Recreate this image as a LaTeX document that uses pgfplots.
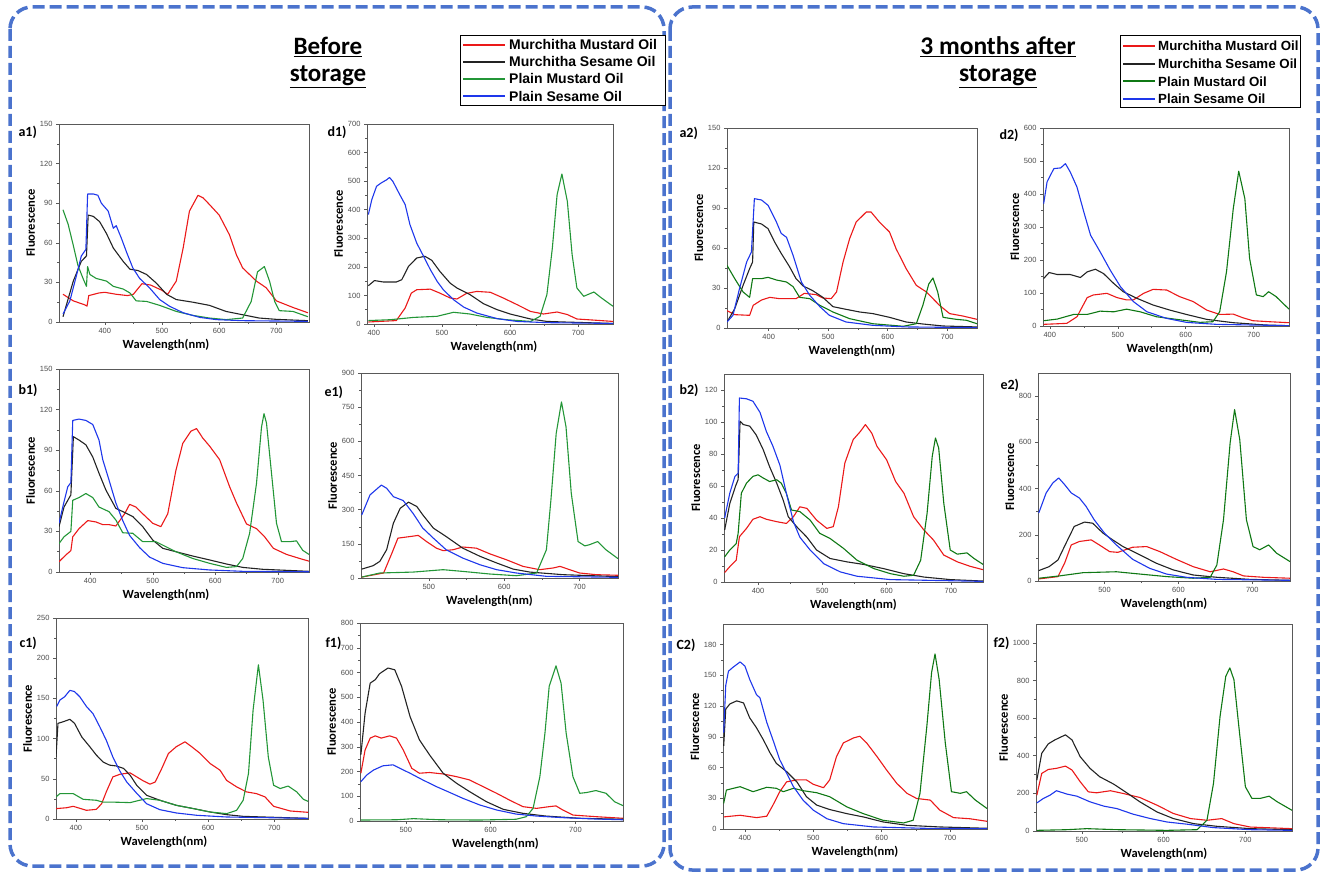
\documentclass[border=0pt]{standalone}
\usepackage{pgfplots}
\pgfplotsset{compat=1.18}
\usepackage{fontspec}
\setmainfont{Liberation Sans}
\newfontfamily\calb{Carlito}

\definecolor{cred}{RGB}{235,25,25}
\definecolor{cblack}{RGB}{35,35,35}
\definecolor{cgreen}{RGB}{35,150,55}
\definecolor{cgreenB}{RGB}{15,120,20}
\definecolor{cblue}{RGB}{30,55,235}
\definecolor{boxblue}{RGB}{75,115,205}

\pgfplotsset{
  sub/.style={
    scale only axis, ymin=0, tick pos=left, tick align=outside, minor tick num=1,
    axis line style={black!65, line width=0.6pt},
    major tick length=3pt, minor tick length=1.6pt,
    every tick/.style={black!65, line width=0.5pt},
    ticklabel style={font=\fontsize{7.5}{8}\selectfont, text=black!70},
    /pgf/number format/assume math mode=true,
    /pgf/number format/1000 sep={},
    xlabel={Wavelength(nm)}, ylabel={Fluorescence},
    label style={font=\calb\bfseries\fontsize{12.5}{13}\selectfont},
    xlabel style={yshift=1pt}, ylabel style={yshift=-2pt},
    every axis plot/.append style={line width=1.1pt, line join=round},
  },
  leftcol/.style={xlabel style={xshift=-18pt}},
  midcol/.style={xlabel style={xshift=4pt}},
}
\newcommand{\plab}[3]{\node[anchor=west, font=\calb\bfseries\fontsize{14}{14}\selectfont] at (#1,-#2) {#3};}

\begin{document}
\begin{tikzpicture}[x=1pt,y=1pt]
\useasboundingbox (0,0) rectangle (1323,-874);

% dashed panels
\draw[boxblue, line width=3.5pt, dash pattern=on 12pt off 5pt, rounded corners=22pt] (10,-7) rectangle (664,-866);
\draw[boxblue, line width=3.5pt, dash pattern=on 12pt off 5pt, rounded corners=22pt] (670,-7) rectangle (1318,-870);

% titles
\node[font=\calb\bfseries\fontsize{25}{27}\selectfont] at (328,-47) {\underline{Before}};
\node[font=\calb\bfseries\fontsize{25}{27}\selectfont] at (328,-77) {\underline{storage}};
\node[font=\calb\bfseries\fontsize{25.5}{27}\selectfont] at (998,-47) {\underline{3 months after}};
\node[font=\calb\bfseries\fontsize{25.5}{27}\selectfont] at (998,-77) {\underline{storage}};

% legends
\draw[black, line width=0.7pt, fill=white] (460,-35) rectangle (665,-105);
\foreach \c/\t [count=\i] in {cred/Murchitha Mustard Oil, cblack/Murchitha Sesame Oil, cgreen/Plain Mustard Oil, cblue/Plain Sesame Oil}{
  \draw[\c, line width=1.8pt] (463,-45-17*\i+17) -- (505,-45-17*\i+17);
  \node[anchor=west, inner sep=0pt, font=\bfseries\fontsize{14}{14}\selectfont] at (509,-45-17*\i+17) {\t};
}
\draw[black, line width=0.7pt, fill=white] (1120,-35) rectangle (1300,-107);
\foreach \c/\t [count=\i] in {cred/Murchitha Mustard Oil, cblack/Murchitha Sesame Oil, cgreenB/Plain Mustard Oil, cblue/Plain Sesame Oil}{
  \draw[\c, line width=1.8pt] (1123,-46-17.7*\i+17.7) -- (1155,-46-17.7*\i+17.7);
  \node[anchor=west, inner sep=0pt, font=\bfseries\fontsize{13.3}{14}\selectfont] at (1158,-46-17.7*\i+17.7) {\t};
}

% ---------------- a1 ----------------
\begin{axis}[sub, leftcol, at={(59pt,-322pt)}, anchor=south west, width=250pt, height=198pt,
  xmin=320, xmax=757, ymax=150, ytick={0,30,...,150}, xtick={400,500,600,700}]
\addplot[color=cred] coordinates {(327,21)(345,16)(365,13)(369,12)(372,20)(390,22)(400,22.5)(420,21)(440,20)(450,21)(465,29)(480,28)(500,24)(510,21)(525,31)(537,56)(548,84)(563,96)(572,94)(583,89)(600,81)(618,66)(630,51)(641,41)(665,31)(682,26)(700,16)(729,11)(755,7)};
\addplot[color=cblack] coordinates {(327,4)(345,31)(359,46)(368,50)(371,81)(380,80)(391,76)(403,67)(415,56)(432,46)(444,40)(458,39)(473,36)(490,29.5)(508,21)(525,17)(554,15)(583,12.6)(612,8)(641,5.5)(670,3)(700,2)(755,1)};
\addplot[color=cgreen] coordinates {(327,85)(336,74)(345,58)(353,43)(362,33)(368,27)(370,42)(374,36)(385,33)(403,31)(415,27)(432,25)(444,22)(455,16)(473,15.6)(496,12.6)(525,8)(554,5)(583,3)(612,1.8)(641,3)(656,15.6)(667,38)(679,42)(688,31)(697,15.6)(705,8.6)(729,8)(755,4)};
\addplot[color=cblue] coordinates {(327,6)(339,16)(351,36)(359,50)(367,55)(370,97)(380,97)(388,96)(394,90)(406,84)(415,71)(420,73)(429,63.5)(438,53)(449,41)(461,33)(478,26)(496,17)(513,12)(537,7)(566,3.5)(595,1.8)(641,1)(755,0.5)};
\end{axis}
\plab{15}{132}{a1)}

% ---------------- d1 ----------------
\begin{axis}[sub, midcol, at={(367pt,-324pt)}, anchor=south west, width=246pt, height=200pt,
  xmin=390, xmax=751, ymax=700, ytick={0,100,...,700}, xtick={400,500,600,700}]
\addplot[color=cred] coordinates {(392,7)(433,12)(446,56)(455,108)(463,120)(483,122)(497,108)(512,91)(522,87.5)(536,107)(551,114)(571,111)(590,91)(610,68)(630,44)(649,35)(669,42)(684,33)(698,17.5)(728,12.8)(751,9)};
\addplot[color=cblack] coordinates {(392,134)(401,152)(414,147)(433,147)(441,155)(451,202)(463,231)(475,237)(485,223)(497,184)(512,143)(522,126)(541,103)(561,71)(581,50)(600,35)(630,17.5)(654,9)(679,7)(751,2)};
\addplot[color=cgreen] coordinates {(392,12)(424,15)(458,23)(493,27)(517,41)(541,35)(566,23)(595,15)(630,9)(644,27)(654,103)(662,266)(669,453)(676,525)(684,429)(691,243)(698,126)(708,97)(723,112)(733,93)(751,62)};
\addplot[color=cblue] coordinates {(392,383)(397,435)(404,482)(411,494)(419,505)(423,513)(428,499)(438,453)(446,418)(453,348)(463,283)(473,237)(483,190)(493,149)(502,120)(517,85)(532,59)(551,38.5)(581,18.7)(610,9)(654,4.7)(751,2)};
\end{axis}
\plab{324}{132}{d1)}

% ---------------- b1 ----------------
\begin{axis}[sub, leftcol, at={(59pt,-572pt)}, anchor=south west, width=250pt, height=203pt,
  xmin=350, xmax=750, ymax=150, ytick={0,30,...,150}, xtick={400,500,600,700}]
\addplot[color=cred] coordinates {(350,7.6)(361,12.6)(369,15.8)(372,26)(382,32)(396,38)(409,37)(420,35)(430,35)(441,34)(455,43)(463,50)(473,48)(484,43)(500,36)(513,33.5)(524,43)(537,75)(548,95)(561,104)(570,106)(580,99)(591,93)(607,83)(623,63)(634,51)(650,35.5)(666,32)(679,26)(693,17.5)(714,13)(735,10)(750,8)};
\addplot[color=cblack] coordinates {(350,33.5)(358,48)(369,57)(373,100)(382,97.5)(393,94)(404,85)(414,73)(425,60.6)(441,47)(455,44)(468,41)(484,33.5)(500,23.6)(516,17.5)(537,15)(564,11.8)(591,8.9)(618,5.9)(644,3.4)(676,2)(750,0.5)};
\addplot[color=cgreen] coordinates {(350,21)(358,26)(369,30)(372,53)(382,55)(393,58)(404,55)(414,48)(430,44.6)(441,38.4)(452,29)(468,28.6)(484,22.4)(505,22.4)(521,18.7)(537,15)(564,10)(591,6.4)(618,3.4)(634,4)(644,10)(655,28.6)(666,65.5)(674,107)(678,117)(682,110)(690,73)(698,36)(706,22.4)(719,22.4)(730,23)(740,16)(750,13)};
\addplot[color=cblue] coordinates {(350,36)(356,48)(364,63)(369,66)(372,112)(382,113)(393,112)(404,109)(414,97.5)(420,83)(430,68)(441,51)(452,38)(463,27)(479,18)(495,11)(516,6.4)(548,3.2)(591,1.5)(644,0.5)(750,0.2)};
\end{axis}
\plab{15}{390}{b1)}

% ---------------- e1 ----------------
\begin{axis}[sub, at={(361pt,-578pt)}, anchor=south west, width=257pt, height=205pt,
  xmin=410, xmax=751, ymax=900, ytick={0,150,...,900}, xtick={500,600,700}]
\addplot[color=cred] coordinates {(411,4)(440,22)(451,109)(459,175)(475,182)(486,187)(497,160)(510,131)(519,120)(532,124)(545,136)(563,131)(581,106)(603,80)(625,51)(647,36.5)(665,44)(674,51)(687,36.5)(700,22)(722,14.6)(751,12)};
\addplot[color=cblack] coordinates {(411,39)(426,54)(435,73)(444,124)(453,241)(462,306)(473,333)(484,314)(492,277)(506,219)(523,182)(545,131)(568,95)(590,66)(612,39)(634,26)(678,14.6)(751,6)};
\addplot[color=cgreen] coordinates {(411,4)(435,22)(479,26)(519,36.5)(545,29)(581,17.5)(616,10)(643,22)(656,124)(662,343)(669,635)(676,773)(682,664)(689,372)(698,160)(707,141)(713,146)(724,160)(735,124)(751,85)};
\addplot[color=cblue] coordinates {(411,277)(422,365)(437,408)(444,394)(453,357)(466,340)(479,284)(492,219)(506,175)(523,124)(545,87.5)(568,58)(590,36.5)(616,22)(656,7.3)(751,3)};
\end{axis}
\plab{321}{392}{e1)}

% ---------------- c1 ----------------
\begin{axis}[sub, leftcol, at={(56pt,-819pt)}, anchor=south west, width=252pt, height=201pt,
  xmin=370, xmax=751, ymax=250, ytick={0,50,...,250}, xtick={400,500,600,700}]
\addplot[color=cred] coordinates {(370,12.9)(386,14)(396,15.8)(416,10.8)(431,12)(439,19)(446,33.7)(456,52.4)(467,55.7)(482,57.4)(492,52.4)(502,47.4)(512,43.3)(520,46)(530,63)(540,81.5)(552,90)(565,96)(575,90)(588,81.5)(603,69)(618,60.7)(628,48)(643,40)(658,33.7)(673,31.6)(686,27.5)(699,15.8)(724,10)(751,8.3)};
\addplot[color=cblack] coordinates {(370,77)(373,119)(381,121)(391,124)(398,119)(409,102)(421,90)(431,79.5)(441,71)(451,67)(461,66)(472,63)(482,54.5)(492,42)(507,29.5)(527,23.3)(552,17)(578,12.9)(603,8.7)(628,5.4)(653,3.3)(751,0.8)};
\addplot[color=cgreen] coordinates {(370,27.5)(376,31.6)(396,31.6)(411,24.5)(431,23.3)(441,21)(456,21)(482,20.4)(507,25.4)(527,23.3)(552,17)(578,12.9)(603,8.7)(628,6.7)(643,10.8)(653,23.3)(661,56.6)(668,135.6)(676,191.8)(683,148)(691,77)(699,42)(709,37.9)(721,41)(734,33.7)(744,24.5)(751,22)};
\addplot[color=cblue] coordinates {(371,140)(376,148)(383,152)(391,160)(398,158.5)(406,152)(416,140)(426,131)(436,115)(446,98)(456,77)(467,59)(477,46)(492,32)(507,19)(527,11.6)(552,7.5)(583,4.6)(628,2.5)(751,0.8)};
\end{axis}
\plab{16}{643}{c1)}

% ---------------- f1 ----------------
\begin{axis}[sub, midcol, at={(360pt,-821pt)}, anchor=south west, width=263pt, height=198pt,
  xmin=446, xmax=756, ymax=800, ytick={0,100,...,800}, xtick={500,600,700}]
\addplot[color=cred] coordinates {(447,193)(452,287)(458,335)(464,344)(471,335)(481,344)(489,335)(497,287)(507,213)(516,193)(528,196)(544,190)(560,179)(575,166)(591,139)(607,112)(622,85)(638,58)(654,51)(669,58)(677,61)(685,44.5)(697,24)(724,17.5)(756,11)};
\addplot[color=cblack] coordinates {(447,267)(452,436)(458,557)(464,571)(469,595)(479,618)(487,611)(495,544)(505,422)(516,328)(528,267)(544,193)(560,152)(575,119)(595,78)(615,47)(638,31)(665,20)(705,11)(756,7)};
\addplot[color=cgreen] coordinates {(447,4)(489,5)(509,9.5)(540,5)(587,4)(630,7)(642,17.5)(650,51)(658,179)(664,355)(669,544)(677,627)(683,557)(689,355)(697,179)(705,112)(713,115)(724,123)(736,112)(746,78)(756,62)};
\addplot[color=cblue] coordinates {(447,159)(454,186)(462,206)(473,223)(485,227)(493,213)(505,193)(520,166)(536,139)(552,115)(567,92)(587,65)(607,44.5)(630,28)(654,20)(685,13.5)(724,8)(756,5)};
\end{axis}
\plab{322}{643}{f1)}

% ---------------- a2 ----------------
\begin{axis}[sub, at={(727pt,-328pt)}, anchor=south west, width=250pt, height=200pt,
  xmin=330, xmax=750, ymax=150, ytick={0,30,...,150}, xtick={400,500,600,700}]
\addplot[color=cred] coordinates {(330,13)(343,10)(368,9.5)(374,17)(388,21)(402,23)(418,22)(446,22)(460,26)(480,25)(491,22.5)(505,22)(514,27)(525,49.5)(536,67)(547,79.5)(564,87)(572,87)(586,79.5)(603,72)(614,59.5)(631,44.5)(648,32)(665,27)(687,17)(704,10.8)(726,9)(750,6.5)};
\addplot[color=cblack] coordinates {(330,4.5)(343,14.5)(357,32)(368,44.5)(373,49.5)(375,79.5)(388,78)(399,74.5)(410,64.5)(421,56)(435,46)(446,37)(458,31.5)(474,28)(491,23)(508,16)(530,14)(553,12)(575,10.8)(603,8)(631,4.5)(659,3)(693,1.5)(750,0.8)};
\addplot[color=cgreenB] coordinates {(330,47)(343,37)(357,27)(368,23)(373,37)(388,37)(399,38)(413,36)(430,34.5)(441,31)(452,23)(469,22)(486,17)(508,12)(536,7)(575,3.2)(626,1.3)(648,3.2)(659,17)(669,33)(676,37.5)(684,27)(693,8)(715,6.5)(732,5.8)(750,3.2)};
\addplot[color=cblue] coordinates {(330,4.5)(340,9.5)(351,29.5)(363,49.5)(371,57)(376,97)(388,96)(399,92)(413,79.5)(421,71)(430,68)(441,54.5)(455,34.5)(469,24.5)(486,16)(502,9.5)(530,4.5)(575,2)(631,0.8)(750,0.3)};
\end{axis}
\plab{676}{133}{a2)}

% ---------------- d2 ----------------
\begin{axis}[sub, midcol, at={(1043pt,-326pt)}, anchor=south west, width=246pt, height=198pt,
  xmin=390, xmax=752, ymax=600, ytick={0,100,...,600}, xtick={400,500,600,700}]
\addplot[color=cred] coordinates {(391,5)(425,8)(440,28)(455,86)(464,94)(484,99)(499,86)(513,79)(523,79)(538,99)(552,111)(572,109)(591,89)(611,74)(631,48)(650,35)(670,36)(684,25)(699,16)(723,13)(752,10)};
\addplot[color=cblack] coordinates {(391,144)(399,162)(411,156)(430,156)(445,147)(455,164)(467,172)(479,159)(494,129)(508,104)(528,84)(552,63.5)(577,48)(601,35)(631,20)(670,10)(718,3)(752,1)};
\addplot[color=cgreenB] coordinates {(391,16)(411,21)(435,35)(455,35)(474,45)(494,43)(513,51)(533,43)(557,28)(587,20)(621,11)(640,13)(650,43)(660,164)(670,356)(678,469)(687,386)(694,205)(704,94)(714,89)(722,104)(733,89)(752,51)};
\addplot[color=cblue] coordinates {(391,371)(396,437)(406,477)(416,479)(423,492)(430,467)(440,421)(450,346)(460,275)(474,225)(489,169)(504,119)(523,74)(543,43)(572,23)(601,11)(645,5)(752,1)};
\end{axis}
\plab{996}{135}{d2)}

% ---------------- b2 ----------------
\begin{axis}[sub, at={(724pt,-582pt)}, anchor=south west, width=259pt, height=208pt,
  xmin=347, xmax=750, ymax=130, ytick={0,20,...,120}, xtick={400,500,600,700}]
\addplot[color=cred] coordinates {(348,5.9)(358,10.5)(366,13.6)(371,28.3)(382,33.5)(392,39.2)(403,40.8)(413,39.2)(429,37.7)(444,36.6)(455,40.8)(465,47)(476,46)(491,38.7)(507,33.5)(517,34.6)(525,47)(535,74.3)(548,89)(559,94)(567,98.4)(577,93)(585,84.8)(600,76.4)(614,62.8)(627,55.5)(642,40.8)(658,32.5)(673,26.2)(689,16.8)(710,12.6)(730,9.8)(750,7.7)};
\addplot[color=cblack] coordinates {(348,32.5)(356,49)(365,60)(369,64)(372,100.5)(377,98.4)(387,97.4)(397,92)(408,82.7)(418,72)(429,61.8)(439,51.3)(447,40.8)(460,34.6)(476,28)(491,20)(512,14.7)(538,12.6)(564,11)(595,8.4)(627,5.2)(658,3.1)(699,1.5)(750,0.6)};
\addplot[color=cgreenB] coordinates {(348,15.7)(356,20)(366,24)(369,30.4)(374,55.5)(382,61.8)(392,66)(400,67)(408,65)(418,62.8)(429,63.9)(436,61.8)(444,55.5)(452,45)(465,44)(481,38.7)(496,30.4)(512,27.2)(533,21)(554,13.6)(580,8.4)(606,5.2)(627,3.6)(642,4.2)(653,13.6)(663,43)(671,78.5)(676,90)(681,83.8)(689,49.2)(699,20)(710,17.4)(725,18.2)(736,14.7)(750,11)};
\addplot[color=cblue] coordinates {(348,40)(356,55.5)(364,66)(369,68)(371,115)(382,114.5)(392,113)(403,106)(413,94)(423,85)(434,73)(444,55.5)(455,37.7)(465,28)(481,20)(502,11.5)(528,6.3)(554,3.6)(606,1.5)(750,0.4)};
\end{axis}
\plab{676}{390}{b2)}

% ---------------- e2 ----------------
\begin{axis}[sub, at={(1038pt,-581pt)}, anchor=south west, width=252pt, height=208pt,
  xmin=410, xmax=751, ymax=900, ytick={0,200,...,800}, xtick={500,600,700}]
\addplot[color=cred] coordinates {(411,9)(437,19)(446,77)(455,156)(466,171)(482,178)(493,156)(507,127)(518,124)(538,146)(557,149)(575,127)(597,94)(620,62)(643,40)(661,52)(674,40)(688,22)(715,16)(751,12)};
\addplot[color=cblack] coordinates {(411,45)(425,62)(437,91)(448,164)(459,236)(473,255)(484,250)(498,207)(511,178)(525,149)(548,113)(570,77)(593,48)(620,26)(652,16)(697,7)(751,3)};
\addplot[color=cgreenB] coordinates {(411,12)(439,22)(471,36)(516,40)(548,30)(584,19)(620,12)(643,16)(652,69)(661,265)(670,598)(676,742)(683,612)(692,265)(701,149)(710,135)(722,156)(733,120)(751,84)};
\addplot[color=cblue] coordinates {(411,294)(421,381)(430,424)(438,446)(446,417)(455,381)(466,359)(475,323)(486,265)(500,207)(516,156)(538,94)(561,55)(584,30)(611,16)(652,7)(751,3)};
\end{axis}
\plab{997}{385}{e2)}

% ---------------- c2 ----------------
\begin{axis}[sub, at={(723pt,-829pt)}, anchor=south west, width=264pt, height=205pt,
  xmin=368, xmax=754, ymax=200, ytick={0,30,...,180}, xtick={400,500,600,700}]
\addplot[color=cred] coordinates {(369,11.8)(393,13.4)(417,11.1)(432,12.5)(441,23.3)(451,36.4)(461,46)(476,47.9)(490,47.9)(500,43.6)(515,40.3)(524,47.9)(534,70.8)(544,84)(559,88.9)(568,90.5)(578,84)(593,70.8)(607,57.7)(622,44.6)(637,34.8)(651,29.8)(671,28.2)(685,18.4)(705,11.1)(729,10)(754,7.5)};
\addplot[color=cblack] coordinates {(369,81)(372,117)(378,122)(388,125)(398,123)(407,108.5)(417,98.7)(427,87)(437,74)(446,64)(461,56)(476,46)(490,31.5)(505,23.3)(524,19)(549,15)(573,11.8)(602,6.9)(637,3.6)(685,2)(754,0.7)};
\addplot[color=cgreenB] coordinates {(369,25)(373,38)(393,41.3)(412,36.4)(432,40.7)(446,39.7)(456,36.4)(471,39.7)(485,37.4)(505,35.4)(524,31.5)(549,21.6)(573,15)(602,8.5)(632,5.9)(646,8.5)(656,34.8)(666,100)(673,152.8)(678,170.8)(684,146)(693,84)(702,36.4)(715,34.8)(724,36.4)(737,28.2)(754,20)};
\addplot[color=cblue] coordinates {(369,94)(372,140)(376,154)(383,158)(393,163)(400,159)(407,146)(417,131)(422,128)(432,104)(441,87)(451,67.5)(461,54.4)(471,41.3)(485,28.2)(500,18.4)(520,10)(544,5.2)(588,2)(661,0.7)(754,0.3)};
\end{axis}
\plab{673}{645}{C2)}

% ---------------- f2 ----------------
\begin{axis}[sub, at={(1036pt,-831pt)}, anchor=south west, width=256pt, height=207pt,
  xmin=444, xmax=757, ymax=1100, ytick={0,200,...,1000}, xtick={500,600,700}]
\addplot[color=cred] coordinates {(445,190)(451,306)(459,327)(469,333)(480,345)(488,324)(498,262)(508,208)(518,203)(535,214)(551,199)(571,178)(592,137)(612,93)(633,66)(653,57)(671,66)(686,39)(706,21)(757,12.5)};
\addplot[color=cblack] coordinates {(445,270)(451,413)(459,463)(467,484)(480,511)(488,484)(498,395)(510,333)(522,288)(539,249)(555,203)(571,155)(592,101)(612,66)(637,39)(665,25)(706,12.5)(757,7)};
\addplot[color=cgreenB] coordinates {(445,3.5)(482,7)(506,12.5)(543,7)(604,3.5)(641,7)(653,57)(661,253)(669,608)(676,822)(681,867)(686,804)(692,555)(700,235)(708,173)(718,173)(729,185)(739,155)(757,110)};
\addplot[color=cblue] coordinates {(445,149)(453,173)(461,190)(469,214)(482,196)(494,185)(510,155)(527,132)(543,119)(563,89)(584,66)(604,48)(629,36)(661,18)(706,7)(757,3.5)};
\end{axis}
\plab{990}{643}{f2)}

\end{tikzpicture}
\end{document}
